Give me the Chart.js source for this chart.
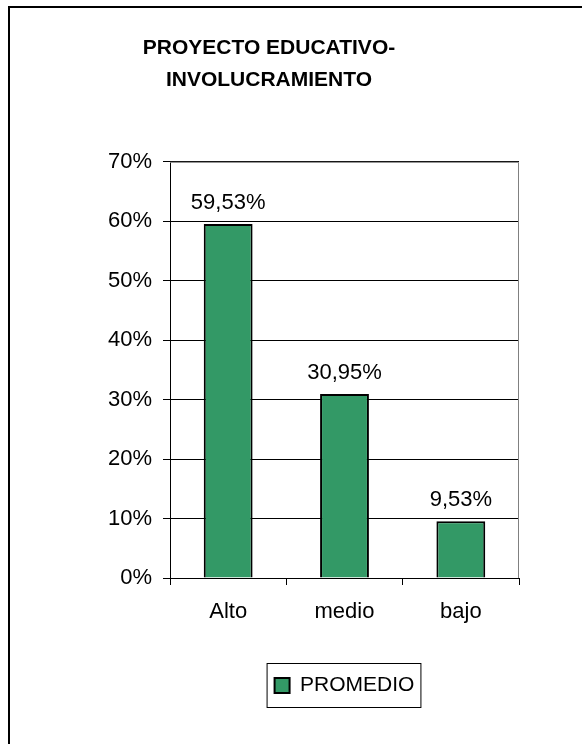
<!DOCTYPE html>
<html>
<head>
<meta charset="utf-8">
<script src="https://cdn.jsdelivr.net/npm/chart.js@4"></script>
<style>
  html, body { margin: 0; padding: 0; background: #fff; }
  #wrap { width: 582px; height: 744px; }
</style>
</head>
<body>
<div id="wrap"><canvas id="myChart" width="582" height="744"></canvas></div>
<script>
var categories = ['Alto', 'medio', 'bajo'];
var promedio = [59.53, 30.95, 9.53];
var yTicks = [0, 10, 20, 30, 40, 50, 60, 70];
var seriesName = 'PROMEDIO';
var titleLines = ['PROYECTO EDUCATIVO-', 'INVOLUCRAMIENTO'];

Chart.defaults.font.family = '"Liberation Sans", Arial, sans-serif';
Chart.defaults.color = '#000';

// outer frame + plot area border
var framePlugin = {
  id: 'frame',
  beforeDraw(chart) {
    var ctx = chart.ctx;
    ctx.save();
    ctx.fillStyle = '#fff';
    ctx.fillRect(0, 0, chart.width, chart.height);
    ctx.strokeStyle = '#000';
    ctx.lineWidth = 2;
    ctx.strokeRect(9, 7, chart.width + 20, chart.height + 20);
    ctx.restore();
  },
  afterDraw(chart) {
    var ctx = chart.ctx;
    var a = chart.chartArea;
    ctx.save();
    ctx.strokeStyle = '#808080';
    ctx.lineWidth = 1;
    ctx.beginPath();
    ctx.moveTo(a.left, a.top + 0.5);
    ctx.lineTo(a.right - 0.5, a.top + 0.5);
    ctx.lineTo(a.right - 0.5, a.bottom);
    ctx.stroke();
    // legend border
    var box = chart.legend.legendHitBoxes[0];
    if (box) {
      ctx.strokeStyle = '#000';
      ctx.strokeRect(box.left - 7.5, box.top - 11.5, box.width + 14, box.height + 23);
    }
    ctx.restore();
  },
};

// value labels above the bars
var labelPlugin = {
  id: 'valueLabels',
  afterDatasetsDraw(chart) {
    var ctx = chart.ctx;
    var meta = chart.getDatasetMeta(0);
    ctx.save();
    ctx.font = '22px "Liberation Sans", Arial, sans-serif';
    ctx.fillStyle = '#000';
    ctx.textAlign = 'center';
    ctx.textBaseline = 'alphabetic';
    meta.data.forEach(function (bar, i) {
      var txt = promedio[i].toFixed(2).replace('.', ',') + '%';
      ctx.fillText(txt, bar.x, bar.y - 15);
    });
    ctx.restore();
  },
};

new Chart('myChart', {
  type: 'bar',
  data: {
    labels: categories,
    datasets: [
      {
        label: seriesName,
        data: promedio,
        backgroundColor: '#339966',
        borderColor: '#000',
        borderWidth: 2,
        barPercentage: 0.42,
        categoryPercentage: 1,
      },
    ],
  },
  options: {
    responsive: false,
    animation: false,
    devicePixelRatio: 1,
    layout: { padding: { left: 19, right: 63, top: 0, bottom: 38 } },
    plugins: {
      title: {
        display: true,
        text: titleLines,
        font: { size: 21, weight: 'bold', lineHeight: 1.52 },
        padding: { top: 32, bottom: 66 },
        color: '#000',
      },
      legend: {
        position: 'bottom',
        fullSize: false,
        labels: {
          boxWidth: 15,
          boxHeight: 15,
          font: { size: 21 },
          color: '#000',
          padding: 0,
        },
      },
      tooltip: { enabled: false },
    },
    scales: {
      x: {
        grid: {
          drawOnChartArea: false,
          drawTicks: true,
          tickLength: 7,
          color: '#000',
          offset: true,
        },
        border: { color: '#000', width: 1 },
        ticks: { font: { size: 22 }, padding: 14, color: '#000' },
        afterFit(scale) {
          scale.height = 97;
        },
      },
      y: {
        min: 0,
        max: 70,
        afterBuildTicks(scale) {
          scale.ticks = yTicks.map(function (v) { return { value: v }; });
        },
        grid: { color: '#000', lineWidth: 1, tickLength: 7 },
        border: { color: '#000', width: 1 },
        ticks: {
          font: { size: 22 },
          padding: 11,
          color: '#000',
          callback: function (v) { return v + '%'; },
        },
        afterFit(scale) {
          scale.width = 151;
        },
      },
    },
  },
  plugins: [framePlugin, labelPlugin],
});
</script>
</body>
</html>
